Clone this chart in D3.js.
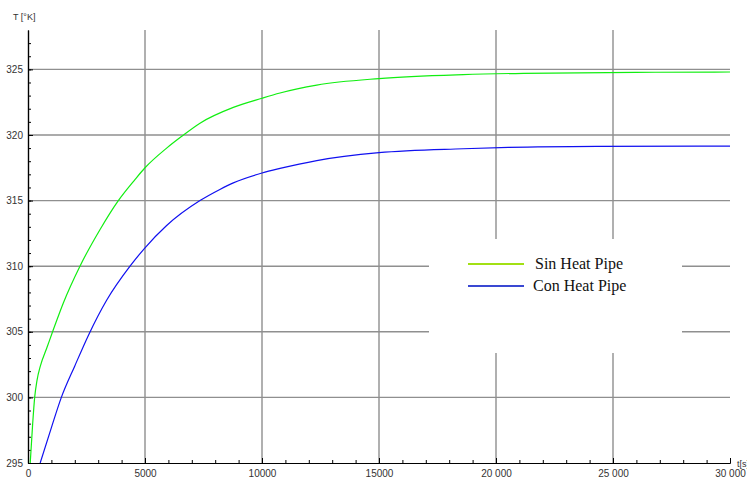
<!DOCTYPE html>
<html>
<head>
<meta charset="utf-8">
<script src="https://cdn.jsdelivr.net/npm/d3@7"></script>
<style>
    body { margin: 0; background: #fff; }
    .tick text { font-family: "Liberation Sans", Arial, sans-serif; font-size: 10px; fill: #333; }
</style>
</head>
<body>
<script>
(function () {
    // Sin Heat Pipe (green curve), time in s and temperature in K
    var sinTime = [95, 200, 285, 385, 530, 810, 1070, 1510, 2220, 3080, 3860, 4570, 5000, 5925, 6570, 7350, 8775, 10000, 10770, 12340, 15000, 18600, 21170, 26800, 30000];
    var sinTemp = [295.0, 298.0, 300.0, 301.3, 302.4, 303.8, 305.1, 307.2, 310.0, 312.8, 315.0, 316.6, 317.5, 319.0, 319.9, 320.9, 322.1, 322.8, 323.2, 323.8, 324.3, 324.6, 324.7, 324.78, 324.8];

    // Con Heat Pipe (blue curve)
    var conTime = [520, 1000, 1425, 2000, 2600, 3360, 4360, 5000, 5925, 7350, 8200, 8775, 10000, 10770, 12340, 15000, 18600, 20530, 24300, 30000];
    var conTemp = [295.0, 297.7, 300.0, 302.4, 304.8, 307.4, 310.0, 311.4, 313.1, 315.0, 315.85, 316.35, 317.1, 317.45, 318.05, 318.65, 318.95, 319.05, 319.13, 319.15];

    var xTicks = [0, 5000, 10000, 15000, 20000, 25000, 30000];
    var xTickLabels = ["0", "5000", "10000", "15000", "20 000", "25 000", "30 000"];
    var yTicks = [295, 300, 305, 310, 315, 320, 325];
    var xGrid = [5000, 10000, 15000, 20000, 25000];
    var yGrid = [300, 305, 310, 315, 320, 325];

    var seriesNames = ["Sin Heat Pipe", "Con Heat Pipe"];
    var curveColors = ["#11ee11", "#1010f0"];
    var legendColors = ["#a2e014", "#3a48d2"];

    var width = 747,
        height = 478;

    var svg = d3.select("body")
        .append("svg")
        .attr("width", width)
        .attr("height", height);

    var x = d3.scaleLinear()
        .domain([0, 30000])
        .range([28, 730]);

    var y = d3.scaleLinear()
        .domain([295, 328])
        .range([463, 30]);

    // grid
    svg.append("g")
        .selectAll("line")
        .data(yGrid)
        .enter()
        .append("line")
        .attr("x1", x(0))
        .attr("x2", x(30000))
        .attr("y1", function (d) { return y(d); })
        .attr("y2", function (d) { return y(d); })
        .style("stroke", "#8f8f8f")
        .style("stroke-width", 1.4);

    svg.append("g")
        .selectAll("line")
        .data(xGrid)
        .enter()
        .append("line")
        .attr("x1", function (d) { return x(d); })
        .attr("x2", function (d) { return x(d); })
        .attr("y1", y(328))
        .attr("y2", y(295))
        .style("stroke", "#8f8f8f")
        .style("stroke-width", 1.4);

    // legend box hides the grid behind it
    svg.append("rect")
        .attr("x", 429)
        .attr("y", 239)
        .attr("width", 253)
        .attr("height", 114)
        .style("fill", "#fff");

    // axes: major ticks with labels, minor ticks without
    var xAxis = d3.axisBottom(x)
        .tickValues(xTicks)
        .tickSizeInner(-5)
        .tickSizeOuter(0)
        .tickPadding(7)
        .tickFormat(function (d, i) { return xTickLabels[i]; });

    var xMinor = d3.axisBottom(x)
        .tickValues(d3.range(1000, 30001, 1000))
        .tickSizeInner(-3)
        .tickSizeOuter(0)
        .tickFormat("");

    var yAxis = d3.axisLeft(y)
        .tickValues(yTicks)
        .tickSizeInner(-5)
        .tickSizeOuter(0)
        .tickPadding(5)
        .tickFormat(d3.format("d"));

    var yMinor = d3.axisLeft(y)
        .tickValues(d3.range(296, 328, 1))
        .tickSizeInner(-3)
        .tickSizeOuter(0)
        .tickFormat("");

    svg.append("g").attr("transform", "translate(0," + y(295) + ")").call(xMinor);
    svg.append("g").attr("transform", "translate(0," + y(295) + ")").call(xAxis);
    svg.append("g").attr("transform", "translate(" + x(0) + ",0)").call(yMinor);
    svg.append("g").attr("transform", "translate(" + x(0) + ",0)").call(yAxis);

    svg.selectAll(".domain").style("stroke", "#000").style("stroke-width", 1.2);

    // axis labels
    svg.append("text")
        .attr("x", 13)
        .attr("y", 20)
        .style("font-family", "Liberation Sans, Arial, sans-serif")
        .style("font-size", "9px")
        .style("fill", "#333")
        .text("T [°K]");

    svg.append("text")
        .attr("x", 737)
        .attr("y", 467)
        .style("font-family", "Liberation Sans, Arial, sans-serif")
        .style("font-size", "9px")
        .style("fill", "#333")
        .text("t[s]");

    // curves
    svg.append("clipPath")
        .attr("id", "plotClip")
        .append("rect")
        .attr("x", x(0))
        .attr("y", y(328))
        .attr("width", x(30000) - x(0))
        .attr("height", y(295) - y(328));

    var line = d3.line()
        .x(function (d) { return x(d[0]); })
        .y(function (d) { return y(d[1]); })
        .curve(d3.curveMonotoneX);

    var series = [
        d3.zip(sinTime, sinTemp),
        d3.zip(conTime, conTemp)
    ];

    svg.append("g")
        .attr("clip-path", "url(#plotClip)")
        .selectAll("path")
        .data(series)
        .enter()
        .append("path")
        .attr("d", line)
        .style("fill", "none")
        .style("stroke", function (d, i) { return curveColors[i]; })
        .style("stroke-width", 1.2);

    // legend
    var legend = svg.append("g")
        .selectAll("g")
        .data(seriesNames)
        .enter()
        .append("g")
        .attr("transform", function (d, i) { return "translate(468," + (264 + i * 22) + ")"; });

    legend.append("line")
        .attr("x1", 0)
        .attr("x2", 56)
        .style("stroke", function (d, i) { return legendColors[i]; })
        .style("stroke-width", 2.2);

    legend.append("text")
        .attr("x", function (d, i) { return i === 0 ? 67 : 65; })
        .attr("y", 5)
        .style("font-family", "Liberation Serif, Times New Roman, serif")
        .style("font-size", "16px")
        .style("fill", "#111")
        .text(function (d) { return d; });
})();
</script>
</body>
</html>
